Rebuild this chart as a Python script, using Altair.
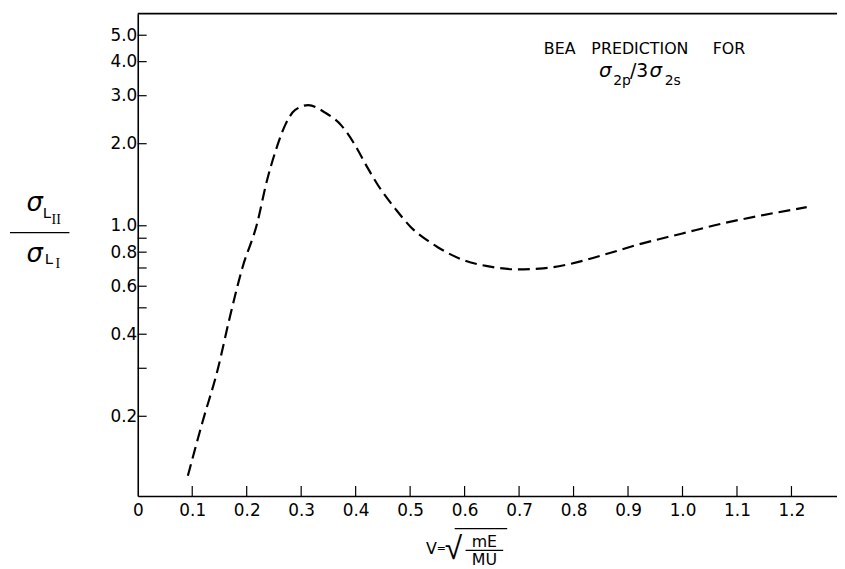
import altair as alt
import pandas as pd

# ---- data ----
v_values = [0.092, 0.119, 0.147, 0.168, 0.192, 0.219, 0.237, 0.253, 0.271,
            0.289, 0.313, 0.344, 0.374, 0.398, 0.422, 0.445, 0.475, 0.501, 0.531,
            0.550, 0.598, 0.647, 0.695, 0.744, 0.792, 0.853, 0.925, 0.998, 1.071,
            1.144, 1.228]
ratio_values = [0.121, 0.191, 0.298, 0.453, 0.700, 1.017, 1.46, 1.88, 2.35,
                2.66, 2.77, 2.60, 2.33, 1.99, 1.63, 1.37, 1.14, 0.99, 0.885,
                0.836, 0.748, 0.708, 0.692, 0.698, 0.723, 0.780, 0.860, 0.935, 1.017,
                1.09, 1.17]

x_label_values = [0, 0.1, 0.2, 0.3, 0.4, 0.5, 0.6, 0.7, 0.8, 0.9, 1.0, 1.1, 1.2]
x_tick_values = [0.1, 0.2, 0.3, 0.4, 0.5, 0.6, 0.7, 0.8, 0.9, 1.0, 1.1, 1.2]
y_label_values = [0.2, 0.4, 0.6, 0.8, 1.0, 2.0, 3.0, 4.0, 5.0]
y_tick_values = [0.2, 0.3, 0.4, 0.5, 0.6, 0.7, 0.8, 0.9, 1.0, 2.0, 3.0, 4.0, 5.0]

annotation_words = ["BEA", "PREDICTION", "FOR"]
sigma = "σ"
sub_2p = "2p"
slash_3 = "/3"
sub_2s = "2s"
sub_L = "L"
sub_II = "II"
sub_I = "I"
xtitle_v = "V"
xtitle_eq = "="
xtitle_root = "√"
xtitle_num = "mE"
xtitle_den = "MU"

# ---- layout ----
W, H = 706, 487
OX, OY = 139, 11          # page position of plot origin
X_DOMAIN = [0, 1.2836]
Y_DOMAIN = [0.102, 6.0]
FONT = "DejaVu Sans"
SERIF = "Liberation Serif"

xs = alt.Scale(domain=X_DOMAIN, nice=False, zero=False)
ys = alt.Scale(type="log", domain=Y_DOMAIN, nice=False)

x_axis = alt.Axis(
    values=x_label_values, title=None, ticks=False, grid=False,
    labelExpr="datum.value == 0 ? '0' : format(datum.value, '.1f')",
    labelFont=FONT, labelFontSize=17, labelColor="black", labelPadding=7,
    domainColor="black", domainWidth=1.6, labelFlush=False)
y_axis = alt.Axis(
    values=y_label_values, format=".1f", title=None, ticks=False, grid=False,
    labelFont=FONT, labelFontSize=17, labelColor="black", labelPadding=1,
    domainColor="black", domainWidth=1.6, labelFlush=False)

df = pd.DataFrame({"v": v_values, "ratio": ratio_values})

curve = alt.Chart(df).mark_line(
    color="black", strokeWidth=2.2, strokeDash=[12, 6], interpolate="monotone"
).encode(
    x=alt.X("v:Q", scale=xs, axis=x_axis),
    y=alt.Y("ratio:Q", scale=ys, axis=y_axis),
)

xticks = alt.Chart(pd.DataFrame({"t": x_tick_values})).mark_rule(
    color="black", strokeWidth=1.2
).encode(x=alt.X("t:Q", scale=xs, axis=x_axis), y=alt.value(H), y2=alt.value(H - 10))

yticks = alt.Chart(pd.DataFrame({"t": y_tick_values})).mark_rule(
    color="black", strokeWidth=1.2
).encode(y=alt.Y("t:Q", scale=ys, axis=y_axis), x=alt.value(0), x2=alt.value(9))

one = pd.DataFrame({"k": [0]})
top_border = alt.Chart(one).mark_rule(color="black", strokeWidth=1.6).encode(
    x=alt.value(0), x2=alt.value(W), y=alt.value(0))


def txt(t, px, py, size, align="center", font=FONT, style="normal"):
    return alt.Chart(pd.DataFrame({"t": [t]})).mark_text(
        font=font, fontSize=size, align=align, baseline="alphabetic",
        color="black", fontStyle=style
    ).encode(text="t:N", x=alt.value(px - OX), y=alt.value(py - OY))


def hbar(x1, x2, py, w=1.3):
    return alt.Chart(one).mark_rule(color="black", strokeWidth=w).encode(
        x=alt.value(x1 - OX), x2=alt.value(x2 - OX), y=alt.value(py - OY))


layers = [curve, xticks, yticks, top_border]

# annotation: BEA PREDICTION FOR / σ2p/3σ2s
layers += [txt(annotation_words[0], 565, 52, 16),
           txt(annotation_words[1], 646, 52, 16),
           txt(annotation_words[2], 736, 52, 16)]
layers += [txt(sigma, 611, 75, 20, style="italic"),
           txt(sub_2p, 619, 83, 14, align="left"),
           txt(slash_3, 636, 75, 19, align="left"),
           txt(sigma, 662, 75, 20, style="italic"),
           txt(sub_2s, 671, 83, 14, align="left")]

# y title: σ_LII / σ_LI
layers += [txt(sigma, 35, 210, 26, style="italic"),
           txt(sub_L, 43, 217, 15, align="left"),
           txt(sub_II, 52, 223, 14, align="left", font=SERIF),
           hbar(10, 70, 232),
           txt(sigma, 35, 262, 26, style="italic"),
           txt(sub_L, 45, 264, 15, align="left"),
           txt(sub_I, 56, 268, 14, align="left", font=SERIF)]

# x title: V = sqrt(mE/MU)
layers += [txt(xtitle_v, 430, 557, 16, align="left"),
           txt(xtitle_eq, 441, 555, 11, align="left"),
           txt(xtitle_root, 449, 562, 32, align="left", font="Liberation Sans"),
           hbar(459, 512, 531, 1.2),
           txt(xtitle_num, 489, 550, 16),
           hbar(470, 508, 553, 1.2),
           txt(xtitle_den, 489, 568, 16)]

chart = alt.layer(*layers).properties(
    width=W, height=H,
    autosize=alt.AutoSizeParams(type="none"),
    padding={"left": OX - 8, "top": OY - 8, "right": 0, "bottom": 70},
    background="white",
).configure_view(stroke=None)

chart.save("out.html", embed_options={"renderer": "svg", "actions": False})
